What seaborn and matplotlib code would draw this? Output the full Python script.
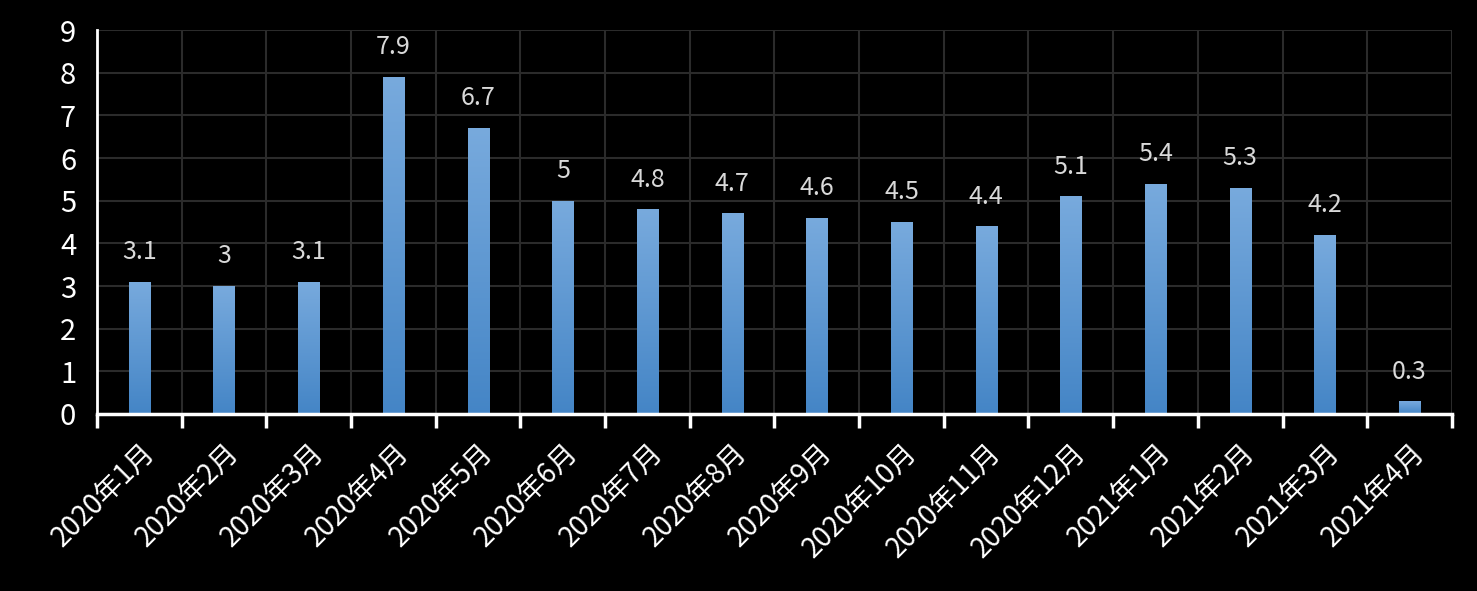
import numpy as np
import pandas as pd
import matplotlib.pyplot as plt
import seaborn as sns
from matplotlib.colors import LinearSegmentedColormap

months = ["2020年1月", "2020年2月", "2020年3月", "2020年4月", "2020年5月", "2020年6月",
          "2020年7月", "2020年8月", "2020年9月", "2020年10月", "2020年11月", "2020年12月",
          "2021年1月", "2021年2月", "2021年3月", "2021年4月"]
values = [3.1, 3, 3.1, 7.9, 6.7, 5, 4.8, 4.7, 4.6, 4.5, 4.4, 5.1, 5.4, 5.3, 4.2, 0.3]
value_labels = ["3.1", "3", "3.1", "7.9", "6.7", "5", "4.8", "4.7", "4.6", "4.5",
                "4.4", "5.1", "5.4", "5.3", "4.2", "0.3"]
y_ticks = list(range(0, 10))

df = pd.DataFrame({"month": months, "value": values})

sns.set_style("dark")
plt.rcParams["font.family"] = ["Noto Sans CJK SC", "DejaVu Sans"]

fig = plt.figure(figsize=(14.77, 5.91), dpi=100, facecolor="black")
ax = fig.add_axes([0.0657, 0.2995, 0.9173, 0.6497])
ax.set_facecolor("black")

sns.barplot(data=df, x="month", y="value", color="#5b9bd5", width=0.25,
            saturation=1, ax=ax, zorder=3)

# vertical gradient inside each bar
grad = LinearSegmentedColormap.from_list("g", ["#4485c6", "#78aadd"])
g = np.linspace(0, 1, 256).reshape(-1, 1)
for p in ax.patches:
    x0, y0 = p.get_x(), p.get_y()
    w, h = p.get_width(), p.get_height()
    im = ax.imshow(g, cmap=grad, origin="lower", aspect="auto",
                   extent=(x0, x0 + w, y0, y0 + h), zorder=3)
    im.set_clip_path(p)
    p.set_facecolor("none")
    p.set_edgecolor("none")

ax.set_xlim(-0.5, len(months) - 0.5)
ax.set_ylim(0, 9)
ax.set_yticks(y_ticks)
ax.set_xlabel("")
ax.set_ylabel("")

for c in ax.containers:
    ax.bar_label(c, labels=value_labels, padding=12, color="#d9d9d9", fontsize=18)

# grid
ax.grid(False)
for yv in y_ticks:
    ax.axhline(yv, color="#2b2b2b", lw=1.5, zorder=1)
bounds = np.arange(-0.5, len(months), 1.0)
ax.set_xticks(bounds, minor=True)
for xv in bounds[1:]:
    ax.axvline(xv, color="#2b2b2b", lw=1.5, zorder=1)

ax.set_xticks(range(len(months)))
ax.tick_params(axis="x", which="major", bottom=True, length=0, pad=17)
ax.tick_params(axis="x", which="minor", bottom=True, length=10, width=2.5,
               color="white", direction="out")
ax.tick_params(axis="y", length=0, pad=15)
ax.set_xticklabels(months, rotation=45, ha="right", rotation_mode="anchor",
                   fontsize=20, color="white")
for lab in ax.get_yticklabels():
    lab.set_fontsize(21)
    lab.set_color("white")

for s in ["top", "right"]:
    ax.spines[s].set_visible(False)
ax.spines["left"].set_color("white")
ax.spines["left"].set_linewidth(2)
ax.spines["bottom"].set_color("white")
ax.spines["bottom"].set_linewidth(2.5)
ax.spines["left"].set_zorder(5)
ax.spines["bottom"].set_zorder(5)

fig.savefig("out.png", dpi=100, facecolor="black")
